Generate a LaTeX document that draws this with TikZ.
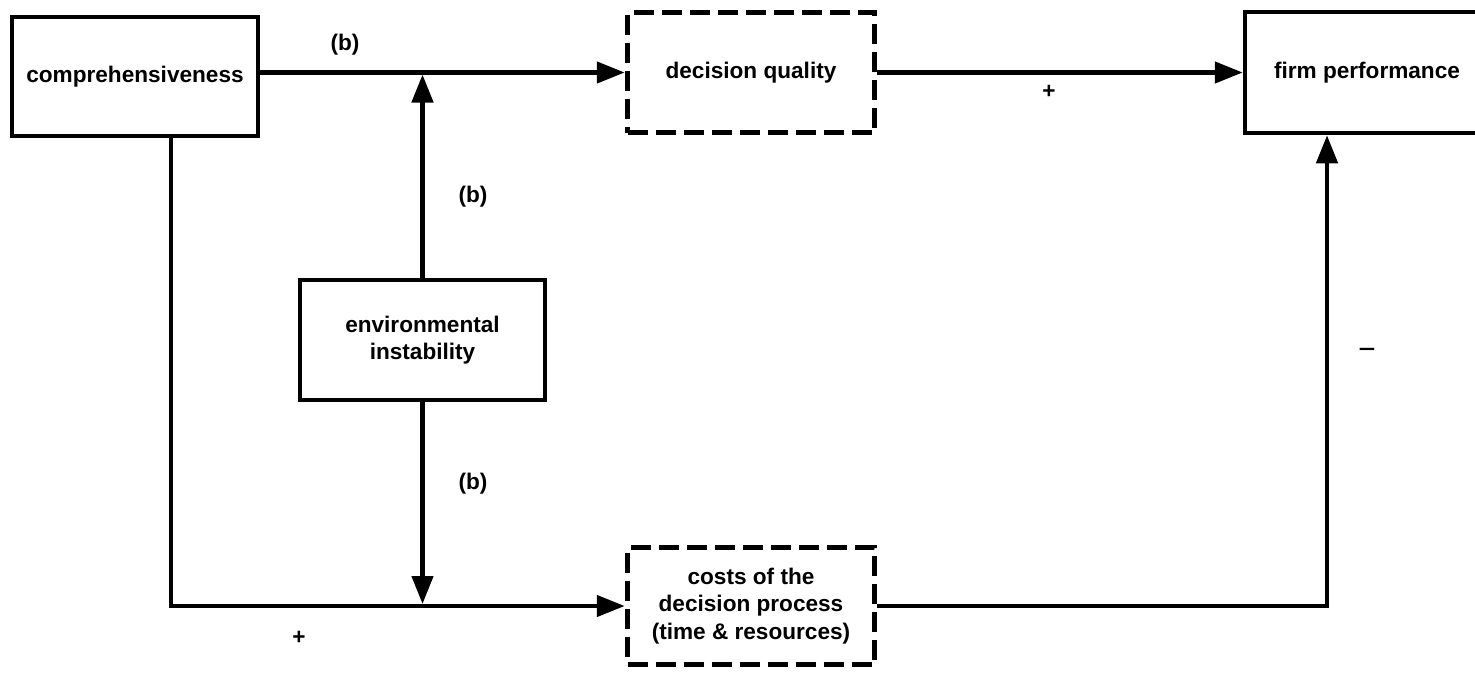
\documentclass[tikz,border=0pt]{standalone}
\usepackage{fontspec}
\setmainfont{Liberation Sans}
\usetikzlibrary{arrows.meta}
\begin{document}
\begin{tikzpicture}[x=1pt,y=-1pt,
  txt/.style={font=\bfseries\fontsize{22.6}{27.5}\selectfont},
  box/.style={txt,draw,line width=4.5pt,align=center,inner sep=0pt},
  dbox/.style={box,line width=5.5pt,dash pattern=on 20pt off 8pt},
  conn/.style={line width=4.5pt,-{Triangle[length=28pt,width=21pt]}},
  lbl/.style={txt,inner sep=0pt}]
\useasboundingbox (0,0) rectangle (1475,672);
\clip (0,0) rectangle (1475,672);
\node[box,minimum width=246pt,minimum height=119pt] (comp) at (135,76.5) {comprehensiveness};
\node[dbox,minimum width=247pt,minimum height=120pt] (dq) at (751,72.5) {decision quality};
\node[box,minimum width=244pt,minimum height=121pt] (firm) at (1367,72.5) {firm performance};
\node[box,minimum width=245pt,minimum height=120pt] (env) at (422.5,340) {environmental\\instability};
\node[dbox,minimum width=247pt,minimum height=117pt] (cost) at (751,606) {costs of the\\decision process\\(time \& resources)};
\draw[conn] (comp.east |- dq.west) -- (dq.west);
\draw[conn,shorten >=2pt] (env.north) -- (env.north |- dq.west);
\draw[conn] (dq.east) -- (firm.west);
\draw[conn] ([xshift=36pt]comp.south) |- (cost.west);
\draw[conn,shorten >=2pt] (env.south) -- (env.south |- cost.west);
\draw[conn] (cost.east) -| ([xshift=-40pt]firm.south);
\node[lbl] (b1) at (345,45) {(b)};
\node[lbl] (b2) at (473,197) {(b)};
\node[lbl] (b3) at (473,484) {(b)};
\node[lbl] (p1) at (1049,92) {+};
\node[lbl] (p2) at (299,638) {+};
\node[lbl,xscale=1.3] (m1) at (1367,352) {–};
\end{tikzpicture}
\end{document}
